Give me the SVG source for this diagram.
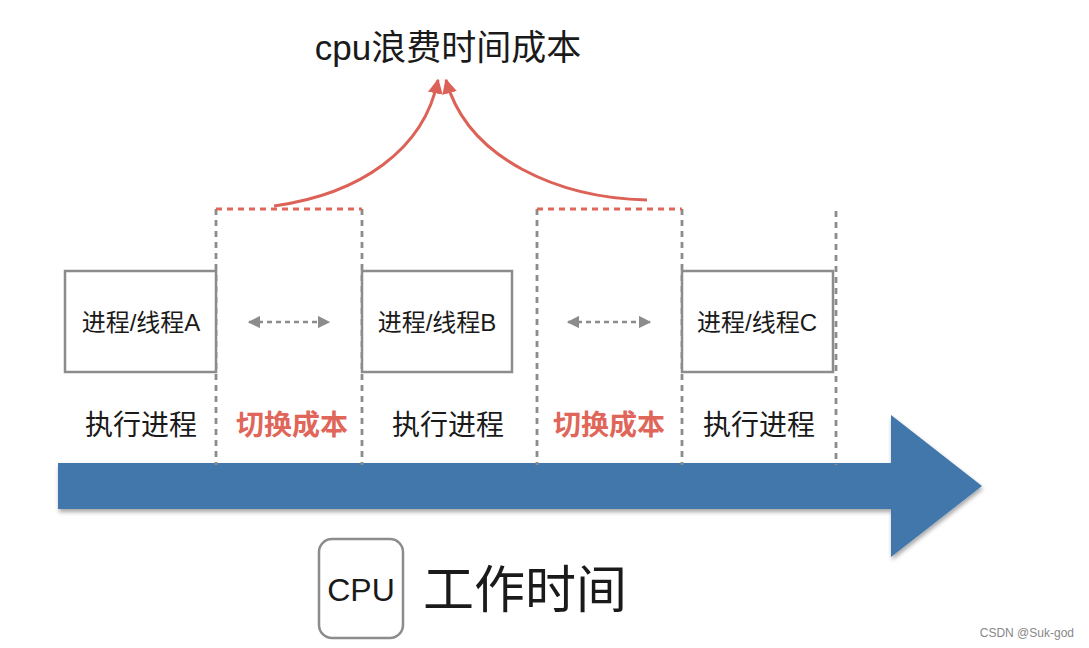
<svg xmlns="http://www.w3.org/2000/svg" width="1089" height="648" viewBox="0 0 1089 648">
<style>
.t{font-family:"Liberation Sans","Noto Sans CJK SC",sans-serif;fill:#1a1a1a}
.box{fill:#fff;stroke:#8c8c8c;stroke-width:2.5}
.vd{stroke:#8c8c8c;stroke-width:2.8;stroke-dasharray:6 5;fill:none}
.rd{stroke:#e0665a;stroke-width:2.8;stroke-dasharray:6 5;fill:none}
.da{stroke:#8c8c8c;stroke-width:2.5;stroke-dasharray:5 4;fill:none}
.rc{stroke:#dc6156;stroke-width:3;fill:none}
</style>
<defs>
<marker id="gh" viewBox="0 0 10 10" refX="9" refY="5" markerWidth="5" markerHeight="5" orient="auto-start-reverse" markerUnits="strokeWidth">
<path d="M0,0L10,5L0,10z" fill="#8c8c8c"/>
</marker>
<marker id="rh" viewBox="0 0 10 10" refX="9" refY="5" markerWidth="5" markerHeight="5" orient="auto" markerUnits="strokeWidth">
<path d="M0,0L10,5L0,10z" fill="#dc6156"/>
</marker>
<filter id="sh" x="-5%" y="-10%" width="110%" height="130%">
<feDropShadow dx="1" dy="3" stdDeviation="2" flood-color="#000" flood-opacity="0.35"/>
</filter>
</defs>

<g id="timeline">
<path d="M58,463H891V415L982,486L891,557V509H58Z" fill="#4277ab" filter="url(#sh)"/>
</g>

<g id="connectors">
<path class="vd" d="M216,209V465M362,209V465M537,209V465M682,209V465M836,211V465"/>
<path class="rd" d="M216,209H362M537,209H682"/>
<path class="da" d="M249,322H329" marker-start="url(#gh)" marker-end="url(#gh)"/>
<path class="da" d="M568,322H650" marker-start="url(#gh)" marker-end="url(#gh)"/>
<path class="rc" d="M274,206C360,194 424,150 438,80" marker-end="url(#rh)"/>
<path class="rc" d="M647,200C560,198 468,160 446,80" marker-end="url(#rh)"/>
</g>

<g id="procA">
<rect class="box" x="65" y="271" width="151" height="101"/>
<text class="t" x="141" y="331" font-size="24" text-anchor="middle">进程/线程A</text>
</g>
<g id="procB">
<rect class="box" x="362" y="271" width="150" height="101"/>
<text class="t" x="437" y="331" font-size="24" text-anchor="middle">进程/线程B</text>
</g>
<g id="procC">
<rect class="box" x="682" y="271" width="151" height="101"/>
<text class="t" x="757" y="331" font-size="24" text-anchor="middle">进程/线程C</text>
</g>

<g id="labels">
<text class="t" x="141" y="435" font-size="28" text-anchor="middle">执行进程</text>
<text class="t" x="292" y="435" font-size="28" text-anchor="middle" font-weight="bold" style="fill:#e0665a">切换成本</text>
<text class="t" x="448" y="435" font-size="28" text-anchor="middle">执行进程</text>
<text class="t" x="609" y="435" font-size="28" text-anchor="middle" font-weight="bold" style="fill:#e0665a">切换成本</text>
<text class="t" x="759" y="435" font-size="28" text-anchor="middle">执行进程</text>
</g>

<g id="title">
<text class="t" x="448" y="60" font-size="35" text-anchor="middle">cpu浪费时间成本</text>
</g>

<g id="cpu">
<rect x="319" y="539" width="84" height="99" rx="13" fill="#fff" stroke="#8c8c8c" stroke-width="2.5"/>
<text class="t" x="361" y="601" font-size="32" text-anchor="middle">CPU</text>
<text class="t" x="525" y="608" font-size="51" text-anchor="middle">工作时间</text>
</g>

<g id="watermark">
<text x="1074" y="637" font-size="12" text-anchor="end" font-family="Liberation Sans,sans-serif" fill="#888">CSDN @Suk-god</text>
</g>
</svg>
